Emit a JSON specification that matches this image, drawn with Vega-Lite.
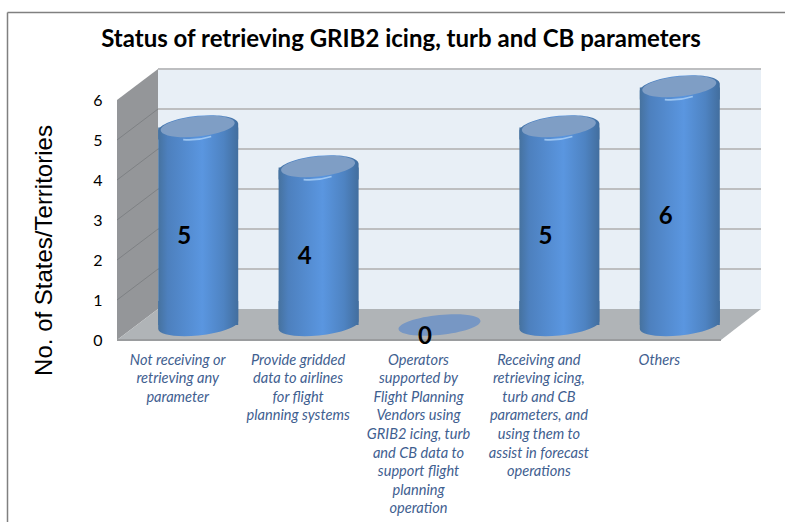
{"$schema":"https://vega.github.io/schema/vega-lite/v6.json","autosize":"none","width":644,"height":271,"padding":{"left":117,"top":69,"right":24,"bottom":182},"background":"white","title":{"text":"Status of retrieving GRIB2 icing, turb and CB parameters","font":"Lato","fontSize":24,"fontWeight":"bold","color":"black","anchor":"middle","frame":"group","dx":-38,"offset":-40},"config":{"view":{"stroke":null}},"datasets":{"rows":[{"category":"Not receiving or\nretrieving any\nparameter","value":5},{"category":"Provide gridded\ndata to airlines\nfor flight\nplanning systems","value":4},{"category":"Operators\nsupported by\nFlight Planning\nVendors using\nGRIB2 icing, turb\nand CB data to\nsupport flight\nplanning\noperation","value":0},{"category":"Receiving and\nretrieving icing,\nturb and CB\nparameters, and\nusing them to\nassist in forecast\noperations","value":5},{"category":"Others","value":6}],"ticks":[{"tick":0},{"tick":1},{"tick":2},{"tick":3},{"tick":4},{"tick":5},{"tick":6}],"one":[{"n":1}],"leftwall":[{"d":0,"lo":0,"hi":6},{"d":41,"lo":0.775,"hi":6.775}],"floor":[{"a":0,"b":604,"lev":0},{"a":41,"b":644,"lev":0.775}]},"resolve":{"scale":{"x":"independent","y":"independent"}},"layer":[{"data":{"name":"one"},"mark":{"type":"rule","stroke":"#808080","strokeWidth":1.5},"encoding":{"x":{"datum":-109.5,"type":"quantitative","scale":{"domain":[0,644],"nice":false,"zero":false},"axis":null},"x2":{"datum":668},"y":{"datum":8.1875,"type":"quantitative","scale":{"domain":[0,6.775],"nice":false},"axis":null}}},{"data":{"name":"one"},"mark":{"type":"rule","stroke":"#808080","strokeWidth":1.5},"encoding":{"x":{"datum":-109.5,"type":"quantitative","scale":{"domain":[0,644],"nice":false,"zero":false},"axis":null},"y":{"datum":8.1875,"type":"quantitative","scale":{"domain":[0,6.775],"nice":false},"axis":null},"y2":{"datum":-4.55}}},{"data":{"name":"one"},"mark":{"type":"rect","fill":"#E8EFF6"},"encoding":{"x":{"datum":41,"type":"quantitative","scale":{"domain":[0,644],"nice":false,"zero":false},"axis":null},"x2":{"datum":644},"y":{"datum":0.775,"type":"quantitative","scale":{"domain":[0,6.775],"nice":false},"axis":null},"y2":{"datum":6.775}}},{"data":{"name":"leftwall"},"mark":{"type":"area","fill":"#949699","orient":"vertical"},"encoding":{"x":{"field":"d","type":"quantitative","scale":{"domain":[0,644],"nice":false,"zero":false},"axis":null},"y":{"field":"lo","type":"quantitative","scale":{"domain":[0,6.775],"nice":false},"axis":null},"y2":{"field":"hi"}}},{"data":{"name":"floor"},"mark":{"type":"area","fill":"#B0B4B7","orient":"horizontal"},"encoding":{"y":{"field":"lev","type":"quantitative","scale":{"domain":[0,6.775],"nice":false},"axis":null},"x":{"field":"a","type":"quantitative","scale":{"domain":[0,644],"nice":false,"zero":false},"axis":null},"x2":{"field":"b"}}},{"data":{"name":"ticks"},"mark":{"type":"rule","stroke":"#BDBEC0","strokeWidth":2,"yOffset":-31},"transform":[{"filter":"datum.tick>0"}],"encoding":{"x":{"datum":41,"type":"quantitative","scale":{"domain":[0,644],"nice":false,"zero":false},"axis":null},"x2":{"datum":644},"y":{"field":"tick","type":"quantitative","scale":{"domain":[0,6.775],"nice":false},"axis":null}}},{"data":{"name":"ticks"},"mark":{"type":"rule","stroke":"#7E8184","strokeWidth":1,"y2Offset":-31},"transform":[{"filter":"datum.tick>0 && datum.tick<6"}],"encoding":{"x":{"datum":0,"type":"quantitative","scale":{"domain":[0,644],"nice":false,"zero":false},"axis":null},"x2":{"datum":41},"y":{"field":"tick","type":"quantitative","scale":{"domain":[0,6.775],"nice":false},"axis":null},"y2":{"field":"tick"}}},{"data":{"name":"one"},"mark":{"type":"rule","stroke":"#9A9C9E","strokeWidth":2},"encoding":{"x":{"datum":0,"type":"quantitative","scale":{"domain":[0,644],"nice":false,"zero":false},"axis":null},"x2":{"datum":604},"y":{"datum":0,"type":"quantitative","scale":{"domain":[0,6.775],"nice":false},"axis":null}}},{"data":{"name":"rows"},"mark":{"type":"point","filled":true,"xOffset":21,"yOffset":-15,"size":6400,"shape":"M-1,0L-1,-0.6L1,-0.6L1,-0.1A1,0.26,-6,1,1,-1,0.1Z","fill":{"gradient":"linear","x1":0,"x2":1,"y1":0,"y2":0,"stops":[{"offset":0,"color":"#46729F"},{"offset":0.12,"color":"#4D80BE"},{"offset":0.55,"color":"#5A96E0"},{"offset":0.82,"color":"#4E83C2"},{"offset":1,"color":"#426E9E"}]}},"encoding":{"x":{"field":"category","type":"nominal","sort":null,"scale":{"range":[0,602]},"axis":{"title":null,"domain":false,"ticks":false,"grid":false,"labelAngle":0,"labelBaseline":"top","labelAlign":"center","labelPadding":12,"labelFont":"Lato","labelFontStyle":"italic","labelFontSize":14.6,"labelColor":"#3F6090","labelLineHeight":18.6,"labelOverlap":false,"labelLimit":0,"labelExpr":"split(datum.label, '\\n')"}},"y":{"datum":0,"type":"quantitative","scale":{"domain":[0,6.775],"nice":false},"axis":{"title":"No. of States/Territories","titleFont":"Liberation Sans","titleFontSize":24,"titleFontWeight":"normal","titleColor":"black","titleX":-61,"titleY":181,"domain":false,"ticks":false,"grid":false,"values":[0,1,2,3,4,5,6],"format":"d","labelFont":"Lato","labelFontSize":16,"labelColor":"black","labelPadding":15}},"opacity":{"condition":{"test":"datum.value===0","value":0},"value":1}}},{"data":{"name":"rows"},"mark":{"type":"bar","width":80,"xOffset":21,"yOffset":-12.5,"y2Offset":-15,"fill":{"gradient":"linear","x1":0,"x2":1,"y1":0,"y2":0,"stops":[{"offset":0,"color":"#46729F"},{"offset":0.12,"color":"#4D80BE"},{"offset":0.55,"color":"#5A96E0"},{"offset":0.82,"color":"#4E83C2"},{"offset":1,"color":"#426E9E"}]}},"encoding":{"x":{"field":"category","type":"nominal","sort":null,"scale":{"range":[0,602]},"axis":null},"y":{"field":"value","type":"quantitative","scale":{"domain":[0,6.775],"nice":false},"axis":null},"y2":{"datum":0},"opacity":{"condition":{"test":"datum.value===0","value":0},"value":1}}},{"data":{"name":"rows"},"mark":{"type":"point","filled":true,"xOffset":21,"yOffset":-12.5,"size":6400,"shape":"M-1,0.3L-1,0.1A1,0.29,-6,1,1,1,-0.1L1,0.3Z","fill":{"gradient":"linear","x1":0,"x2":1,"y1":0,"y2":0,"stops":[{"offset":0,"color":"#46729F"},{"offset":0.12,"color":"#4D80BE"},{"offset":0.55,"color":"#5A96E0"},{"offset":0.82,"color":"#4E83C2"},{"offset":1,"color":"#426E9E"}]}},"encoding":{"x":{"field":"category","type":"nominal","sort":null,"scale":{"range":[0,602]},"axis":null},"y":{"field":"value","type":"quantitative","scale":{"domain":[0,6.775],"nice":false},"axis":null},"opacity":{"condition":{"test":"datum.value===0","value":0},"value":1}}},{"data":{"name":"rows"},"mark":{"type":"point","filled":true,"xOffset":20.5,"yOffset":-13.5,"size":5476,"shape":"M-1,0.1A1,0.27,-6,1,1,1,-0.1A1,0.27,-6,1,1,-1,0.1Z","fill":"#7F9EC5"},"encoding":{"x":{"field":"category","type":"nominal","sort":null,"scale":{"range":[0,602]},"axis":null},"y":{"field":"value","type":"quantitative","scale":{"domain":[0,6.775],"nice":false},"axis":null},"opacity":{"condition":{"test":"datum.value===0","value":0},"value":1}}},{"data":{"name":"rows"},"mark":{"type":"point","filled":false,"xOffset":20,"yOffset":-2,"size":6400,"shape":"M-0.35,0.04Q0,0.07,0.35,-0.04","stroke":"#A9CFF6","strokeWidth":1.6},"encoding":{"x":{"field":"category","type":"nominal","sort":null,"scale":{"range":[0,602]},"axis":null},"y":{"field":"value","type":"quantitative","scale":{"domain":[0,6.775],"nice":false},"axis":null},"opacity":{"condition":{"test":"datum.value===0","value":0},"value":0.85}}},{"data":{"name":"rows"},"mark":{"type":"point","filled":true,"xOffset":21.5,"yOffset":-15,"size":6724,"shape":"M-1,0.1A1,0.24,-6,1,1,1,-0.1A1,0.24,-6,1,1,-1,0.1Z","fill":"#7797C4"},"encoding":{"x":{"field":"category","type":"nominal","sort":null,"scale":{"range":[0,602]},"axis":null},"y":{"field":"value","type":"quantitative","scale":{"domain":[0,6.775],"nice":false},"axis":null},"opacity":{"condition":{"test":"datum.value===0","value":1},"value":0}}},{"data":{"name":"rows"},"mark":{"type":"text","font":"Lato","fontWeight":"bold","fontSize":24,"color":"black","baseline":"middle","align":"center","xOffset":7,"yOffset":-3},"encoding":{"x":{"field":"category","type":"nominal","sort":null,"scale":{"range":[0,602]},"axis":null},"y":{"field":"value","type":"quantitative","scale":{"domain":[0,13.55],"nice":false},"axis":null},"text":{"field":"value","type":"quantitative"}}}]}
